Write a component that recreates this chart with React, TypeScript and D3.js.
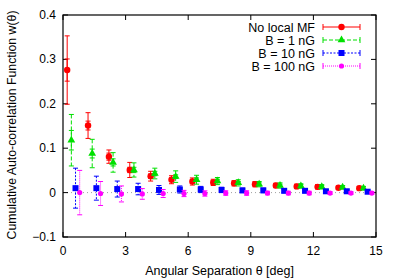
import React from "react";
import * as d3 from "d3";

const bins = [0, 1, 2, 3, 4, 5, 6, 7, 8, 9, 10, 11, 12, 13, 14];
const xTicks = [0, 3, 6, 9, 12, 15];
const yTicks = [-0.1, 0, 0.1, 0.2, 0.3, 0.4];

const noLocalMF = [0.276, 0.151, 0.081, 0.051, 0.037, 0.029, 0.025, 0.023, 0.021, 0.019, 0.016, 0.014, 0.013, 0.011, 0.01];
const noLocalErr = [0.077, 0.029, 0.015, 0.017, 0.011, 0.009, 0.008, 0.007, 0.006, 0.006, 0.005, 0.005, 0.005, 0.004, 0.004];
const noLocalInner = [0.025, 0.01, 0.008, 0.006, 0.005, 0.004, 0.004, 0.004, 0.003, 0.003, 0.003, 0.003, 0.003, 0.003, 0.003];

const b1 = [0.118, 0.088, 0.068, 0.051, 0.043, 0.036, 0.029, 0.026, 0.022, 0.019, 0.016, 0.015, 0.013, 0.012, 0.01];
const b1Err = [0.058, 0.032, 0.022, 0.016, 0.012, 0.013, 0.01, 0.008, 0.007, 0.006, 0.006, 0.005, 0.005, 0.004, 0.004];
const b1Inner = [0.022, 0.01, 0.008, 0.006, 0.005, 0.004, 0.004, 0.004, 0.003, 0.003, 0.003, 0.003, 0.003, 0.003, 0.003];

const b10 = [0.01, 0.01, 0.008, 0.008, 0.006, 0.007, 0.007, 0.006, 0.005, 0.005, 0.004, 0.004, 0.003, 0.003, 0.002];
const b10Err = [0.045, 0.027, 0.018, 0.013, 0.01, 0.008, 0.007, 0.006, 0.005, 0.005, 0.004, 0.004, 0.004, 0.003, 0.003];

const b100 = [0.0, -0.002, -0.003, -0.003, -0.002, -0.002, -0.002, -0.001, -0.001, -0.001, -0.001, -0.001, -0.001, -0.001, -0.001];
const b100Err = [0.05, 0.027, 0.018, 0.012, 0.009, 0.007, 0.006, 0.005, 0.005, 0.004, 0.004, 0.004, 0.003, 0.003, 0.003];

type Series = {
  name: string;
  color: string;
  dash: string;
  marker: "circle" | "triangle" | "square" | "dot";
  offset: number;
  values: number[];
  err: number[];
  inner?: number[];
};

const series: Series[] = [
  { name: "No local MF", color: "#ff0000", dash: "", marker: "circle", offset: 0.2, values: noLocalMF, err: noLocalErr, inner: noLocalInner },
  { name: "B = 1 nG", color: "#00e000", dash: "4,2", marker: "triangle", offset: 0.4, values: b1, err: b1Err, inner: b1Inner },
  { name: "B = 10 nG", color: "#0000ff", dash: "2,1.5", marker: "square", offset: 0.6, values: b10, err: b10Err },
  { name: "B = 100 nG", color: "#ff00ff", dash: "1,1", marker: "dot", offset: 0.8, values: b100, err: b100Err },
];

const W = 399;
const H = 279;
const left = 63;
const right = 376;
const top = 15;
const bottom = 237;
const font = "'Liberation Sans', Arial, Helvetica, sans-serif";

function Marker({ kind, x, y, color }: { kind: Series["marker"]; x: number; y: number; color: string }) {
  if (kind === "circle") return <circle cx={x} cy={y} r={3.2} fill={color} />;
  if (kind === "square") return <rect x={x - 3} y={y - 3} width={6} height={6} fill={color} />;
  if (kind === "triangle") {
    const p = d3.symbol(d3.symbolTriangle, 26)();
    return <path d={p || ""} transform={`translate(${x},${y})`} fill={color} />;
  }
  return <circle cx={x} cy={y} r={2.6} fill={color} />;
}

function ErrBar({ x, y0, y1, color, dash }: { x: number; y0: number; y1: number; color: string; dash: string }) {
  const cap = 2.5;
  return (
    <g stroke={color} strokeWidth={1} strokeDasharray={dash || undefined} fill="none">
      <line x1={x} x2={x} y1={y0} y2={y1} />
      <line x1={x - cap} x2={x + cap} y1={y0} y2={y0} strokeDasharray="none" />
      <line x1={x - cap} x2={x + cap} y1={y1} y2={y1} strokeDasharray="none" />
    </g>
  );
}

export default function App() {
  const x = d3.scaleLinear().domain([0, 15]).range([left, right]);
  const y = d3.scaleLinear().domain([-0.1, 0.4]).range([bottom, top]);
  const tickLen = 5;

  return (
    <svg width={W} height={H} style={{ position: "absolute", left: 0, top: 0, background: "#fff" }} fontFamily={font}>
      {/* zero line */}
      <line x1={left} x2={right} y1={y(0)} y2={y(0)} stroke="#a0a0a0" strokeDasharray="1,3" />

      {/* frame ticks */}
      {xTicks.map((t) => (
        <g key={"xt" + t}>
          <line x1={x(t)} x2={x(t)} y1={bottom} y2={bottom - tickLen} stroke="#000" />
          <line x1={x(t)} x2={x(t)} y1={top} y2={top + tickLen} stroke="#000" />
          <text x={x(t)} y={bottom + 18} textAnchor="middle" fontSize={12}>
            {t}
          </text>
        </g>
      ))}
      {yTicks.map((t) => (
        <g key={"yt" + t}>
          <line x1={left} x2={left + tickLen} y1={y(t)} y2={y(t)} stroke="#000" />
          <line x1={right} x2={right - tickLen} y1={y(t)} y2={y(t)} stroke="#000" />
          <text x={left - 7} y={y(t) + 4} textAnchor="end" fontSize={12}>
            {d3.format("")(+t.toFixed(1))}
          </text>
        </g>
      ))}

      {/* data */}
      {series.map((s) => (
        <g key={s.name}>
          {bins.map((b, i) => {
            const px = x(b + s.offset);
            const v = s.values[i];
            return (
              <g key={i}>
                <ErrBar x={px} y0={y(v + s.err[i])} y1={y(v - s.err[i])} color={s.color} dash={s.dash} />
                {s.inner && s.inner[i] > 0 ? (
                  <ErrBar x={px} y0={y(v + s.inner[i])} y1={y(v - s.inner[i])} color={s.color} dash={s.dash} />
                ) : null}
                <Marker kind={s.marker} x={px} y={y(v)} color={s.color} />
              </g>
            );
          })}
        </g>
      ))}

      <rect x={left} y={top} width={right - left} height={bottom - top} fill="none" stroke="#000" strokeWidth={1.2} />

      {/* legend */}
      {series.map((s, i) => {
        const ly = 27 + i * 13;
        const x0 = 323;
        const x1 = 360;
        return (
          <g key={"lg" + s.name}>
            <text x={315} y={ly + 4.5} textAnchor="end" fontSize={12.5}>
              {s.name}
            </text>
            <line x1={x0} x2={x1} y1={ly} y2={ly} stroke={s.color} strokeDasharray={s.dash || undefined} />
            <line x1={x0} x2={x0} y1={ly - 3} y2={ly + 3} stroke={s.color} />
            <line x1={x1} x2={x1} y1={ly - 3} y2={ly + 3} stroke={s.color} />
            <Marker kind={s.marker} x={(x0 + x1) / 2} y={ly} color={s.color} />
          </g>
        );
      })}

      {/* axis titles */}
      <text x={(left + right) / 2} y={275} textAnchor="middle" fontSize={12.5}>
        Angular Separation θ [deg]
      </text>
      <text transform={`translate(16,125) rotate(-90)`} textAnchor="middle" fontSize={12.3}>
        Cumulative Auto-correlation Function w(θ)
      </text>
    </svg>
  );
}
